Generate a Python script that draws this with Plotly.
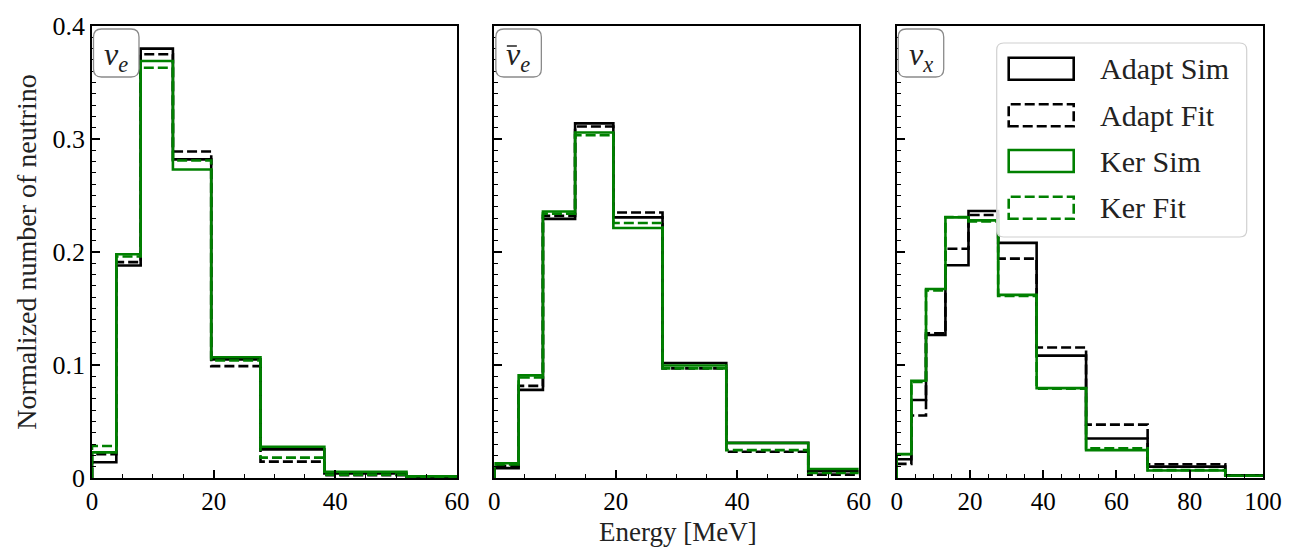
import plotly.graph_objects as go

# ---------------- data ----------------
edges = [0, 4, 8, 13.3, 19.6, 27.7, 38.2, 51.7, 68.5, 89.7, 117]
series_names = ["Adapt Sim", "Adapt Fit", "Ker Sim", "Ker Fit"]

nue_adapt_sim = [0.014, 0.188, 0.380, 0.282, 0.105, 0.0253, 0.004, 0.0012, 0, 0]
nue_adapt_fit = [0.021, 0.191, 0.375, 0.289, 0.099, 0.0145, 0.0025, 0.0006, 0, 0]
nue_ker_sim = [0.0227, 0.198, 0.369, 0.273, 0.1068, 0.0276, 0.0055, 0.0015, 0, 0]
nue_ker_fit = [0.0283, 0.196, 0.363, 0.281, 0.104, 0.018, 0.003, 0.0006, 0, 0]

nuebar_adapt_sim = [0.0087, 0.078, 0.2293, 0.3138, 0.2306, 0.1018, 0.0311, 0.006, 0.001, 0]
nuebar_adapt_fit = [0.0107, 0.0815, 0.232, 0.311, 0.235, 0.097, 0.0232, 0.003, 0.0005, 0]
nuebar_ker_sim = [0.0131, 0.0908, 0.2358, 0.3057, 0.2212, 0.0996, 0.031, 0.0079, 0.001, 0]
nuebar_ker_fit = [0.012, 0.089, 0.234, 0.3033, 0.2256, 0.097, 0.0247, 0.0044, 0.0005, 0]

nux_adapt_sim = [0.0166, 0.069, 0.1266, 0.1883, 0.2363, 0.2081, 0.1083, 0.0349, 0.0101, 0.0023]
nux_adapt_fit = [0.0125, 0.0553, 0.128, 0.2029, 0.2328, 0.1941, 0.1155, 0.0472, 0.0122, 0.0025]
nux_ker_sim = [0.0212, 0.086, 0.1673, 0.2306, 0.228, 0.1621, 0.0795, 0.0247, 0.0066, 0.002]
nux_ker_fit = [0.021, 0.085, 0.166, 0.231, 0.227, 0.161, 0.079, 0.0262, 0.007, 0.002]

panel_labels = ["<i>ν<sub>e</sub></i>", "<i>ν<sub>e</sub></i>", "<i>ν<sub>x</sub></i>"]
panel_bar = [False, True, False]
x_ranges = [[0, 60], [0, 60], [0, 100]]
x_tickvals = [[0, 20, 40, 60], [0, 20, 40, 60], [0, 20, 40, 60, 80, 100]]
y_tickvals = [0, 0.1, 0.2, 0.3, 0.4]
y_ticktext = ["0", "0.1", "0.2", "0.3", "0.4"]

panels = [
    [nue_adapt_sim, nue_adapt_fit, nue_ker_sim, nue_ker_fit],
    [nuebar_adapt_sim, nuebar_adapt_fit, nuebar_ker_sim, nuebar_ker_fit],
    [nux_adapt_sim, nux_adapt_fit, nux_ker_sim, nux_ker_fit],
]

# ---------------- style ----------------
FONT = "Liberation Serif"
GREEN = "#008000"
colors = ["black", "black", GREEN, GREEN]
dashes = ["solid", "10px,4px", "solid", "10px,4px"]
LW = 2.6

W, H = 1296, 548
ML, MR, MT, MB = 92, 33, 20, 70
domains = [[0.0, 0.3117], [0.3436, 0.6547], [0.6872, 1.0]]

fig = go.Figure()


def step_xy(edges, vals):
    xs = [edges[0]] + list(edges) + [edges[-1]]
    ys = [0] + list(vals) + [vals[-1], 0]
    return xs, ys


for p, vals_list in enumerate(panels):
    ax = "" if p == 0 else str(p + 1)
    for s, vals in enumerate(vals_list):
        xs, ys = step_xy(edges, vals)
        fig.add_trace(go.Scatter(
            x=xs, y=ys, mode="lines", line_shape="hv",
            line=dict(color=colors[s], width=LW, dash=dashes[s]),
            name=series_names[s], showlegend=False,
            xaxis="x" + ax, yaxis="y" + ax, hoverinfo="skip",
        ))

layout = dict(
    width=W, height=H,
    margin=dict(l=ML, r=MR, t=MT, b=MB),
    paper_bgcolor="white", plot_bgcolor="white",
    font=dict(family=FONT, color="black", size=25),
    showlegend=False,
)

for p in range(3):
    ax = "" if p == 0 else str(p + 1)
    layout["xaxis" + ax] = dict(
        domain=domains[p], range=x_ranges[p], anchor="y" + ax,
        tickvals=x_tickvals[p], ticks="inside", ticklen=8, tickwidth=1.6,
        tickcolor="black", showline=True, linecolor="black", linewidth=1.6,
        mirror=True, showgrid=False, zeroline=False,
        tickfont=dict(family=FONT, size=25, color="black"),
        minor=dict(dtick=5, ticks="inside", ticklen=4, tickwidth=1.2, tickcolor="black", showgrid=False),
    )
    layout["yaxis" + ax] = dict(
        domain=[0, 1], range=[0, 0.4], anchor="x" + ax,
        tickvals=y_tickvals, ticktext=y_ticktext, ticks="inside", ticklen=8,
        tickwidth=1.6, tickcolor="black", showline=True, linecolor="black",
        linewidth=1.6, mirror=True, showgrid=False, zeroline=False,
        showticklabels=(p == 0),
        tickfont=dict(family=FONT, size=26, color="black"),
        minor=dict(dtick=0.01, ticks="inside", ticklen=4, tickwidth=1.2, tickcolor="black", showgrid=False),
    )

layout["yaxis"]["title"] = dict(text="Normalized number of neutrino",
                                font=dict(family=FONT, size=28, color="#222"), standoff=8)

fig.update_layout(**layout)

fig.add_annotation(text="Energy [MeV]", xref="paper", yref="paper", x=0.5, y=0,
                   xanchor="center", yanchor="top", yshift=-37, showarrow=False,
                   font=dict(family=FONT, size=27, color="#222"))


def rounded_path(x0, y0, x1, y1, r):
    # pixel coords, y positive up; x0<x1, y0>y1 (top>bottom)
    return (f"M{x0 + r},{y0} L{x1 - r},{y0} Q{x1},{y0} {x1},{y0 - r} "
            f"L{x1},{y1 + r} Q{x1},{y1} {x1 - r},{y1} L{x0 + r},{y1} "
            f"Q{x0},{y1} {x0},{y1 + r} L{x0},{y0 - r} Q{x0},{y0} {x0 + r},{y0} Z")


shapes = []
for p in range(3):
    ax = "" if p == 0 else str(p + 1)
    shapes.append(dict(
        type="path", xref="x" + ax, yref="y" + ax, xsizemode="pixel", ysizemode="pixel",
        xanchor=x_ranges[p][0], yanchor=0.4,
        path=rounded_path(1.5, -3, 47, -51, 8),
        line=dict(color="#8a8a8a", width=1.3), fillcolor="white", layer="above",
    ))
    fig.add_annotation(text=panel_labels[p], xref="x" + ax + " domain", yref="y" + ax + " domain",
                       x=0, y=1, xanchor="center", yanchor="middle", xshift=24, yshift=-30,
                       showarrow=False, font=dict(family=FONT, size=32, color="#222"))
    if panel_bar[p]:
        shapes.append(dict(
            type="line", xref="x" + ax, yref="y" + ax, xsizemode="pixel", ysizemode="pixel",
            xanchor=x_ranges[p][0], yanchor=0.4, x0=12.5, x1=22.5, y0=-20, y1=-20,
            line=dict(color="#222", width=1.6), layer="above",
        ))

# custom legend in panel 3 (rectangular step patches)
shapes.append(dict(
    type="path", xref="x3", yref="y3", xsizemode="pixel", ysizemode="pixel",
    xanchor=0, yanchor=0.4,
    path=rounded_path(100, -17, 350, -211, 7),
    line=dict(color="#d0d0d0", width=1.2), fillcolor="rgba(255,255,255,0.85)", layer="above",
))
row_centers = [-42.7, -89.3, -135, -181.7]
for s in range(4):
    yc = row_centers[s]
    shapes.append(dict(
        type="rect", xref="x3", yref="y3", xsizemode="pixel", ysizemode="pixel",
        xanchor=0, yanchor=0.4, x0=112, x1=177, y0=yc - 11, y1=yc + 11,
        line=dict(color=colors[s], width=LW, dash=dashes[s]), fillcolor="rgba(0,0,0,0)",
        layer="above",
    ))
    fig.add_annotation(text=series_names[s], xref="x3 domain", yref="y3 domain", x=0, y=1,
                       xanchor="left", yanchor="middle", xshift=201, yshift=yc,
                       showarrow=False, font=dict(family=FONT, size=30, color="#222"))

fig.update_layout(shapes=shapes)
fig.write_html("out.html")
